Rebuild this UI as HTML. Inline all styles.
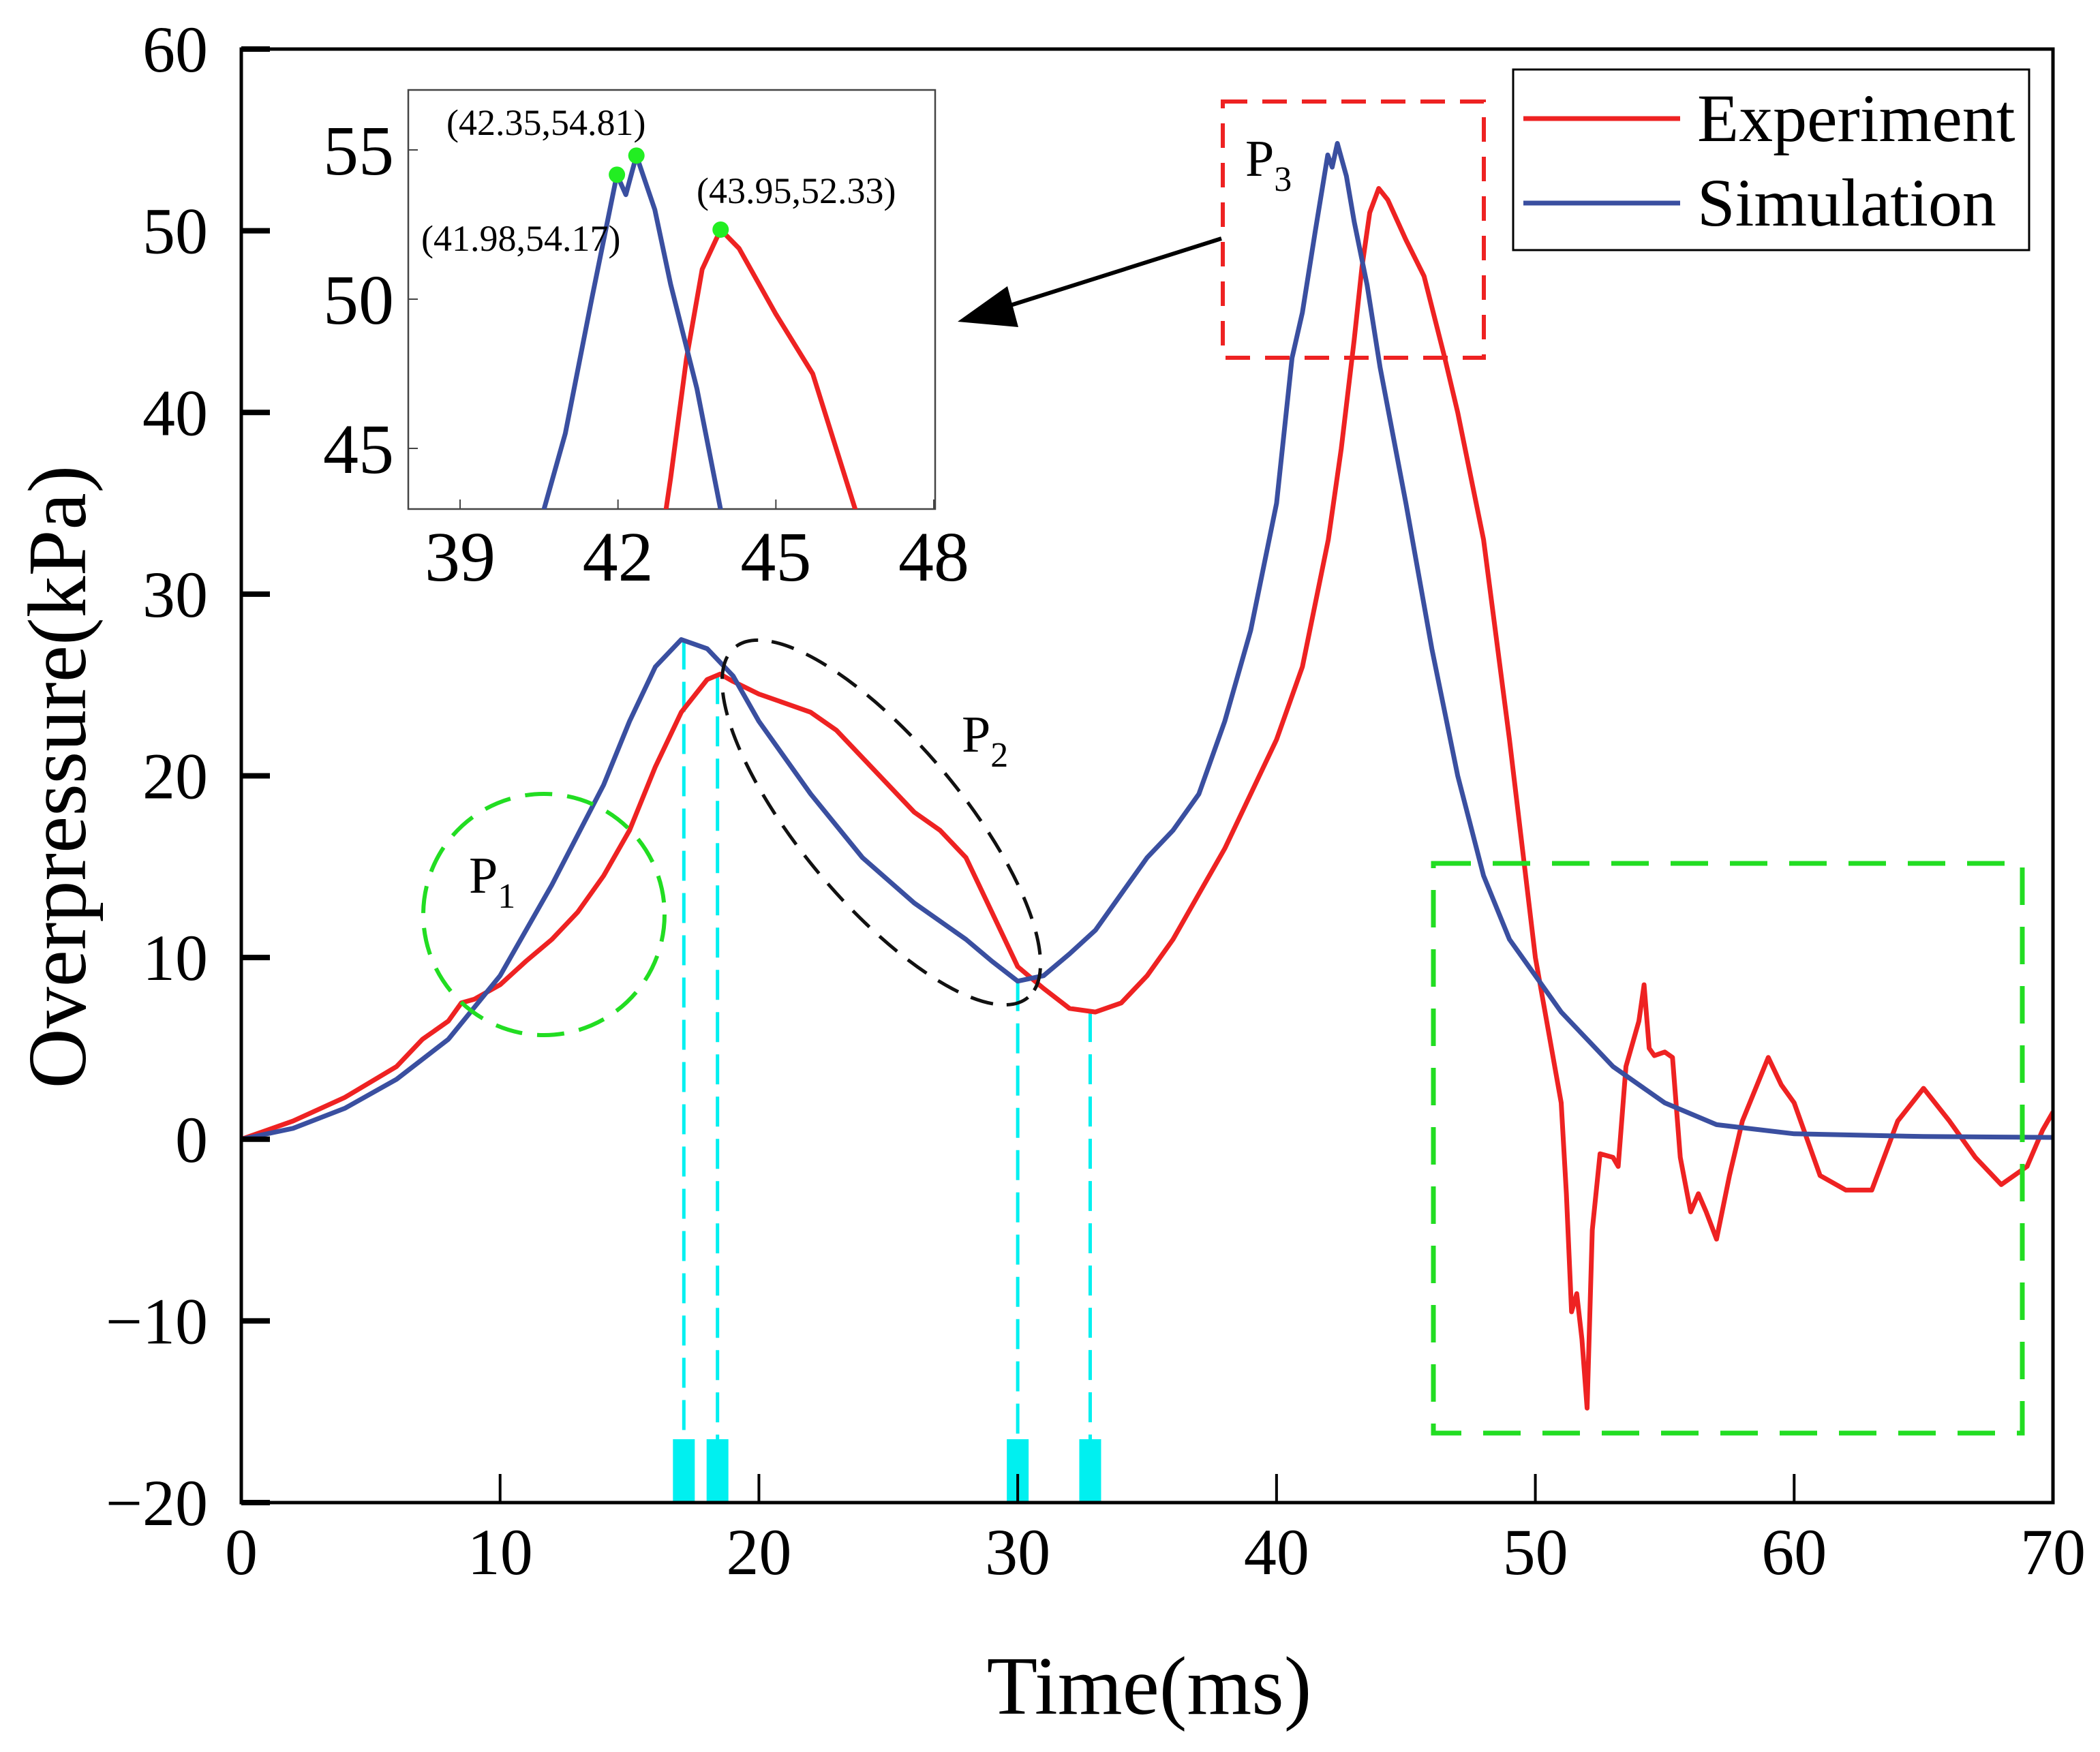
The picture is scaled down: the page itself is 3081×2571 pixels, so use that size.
<!DOCTYPE html>
<html><head><meta charset="utf-8"><style>
html,body{margin:0;padding:0;background:#fff;width:3081px;height:2571px;overflow:hidden}
svg{display:block}
text{font-family:"Liberation Serif",serif;fill:#000}
</style></head><body>
<svg id="c" width="3081" height="2571" viewBox="0 0 3081 2571"></svg>
<script>
const xTicks=[0,10,20,30,40,50,60,70];
const yTicks=[-20,-10,0,10,20,30,40,50,60];
const expT=[0,2,4,6,7,8,8.5,9,10,11,12,13,14,15,16,17,18,18.5,19,20,21,22,23,24,25,26,27,28,29,30,31,32,33,34,35,36,37,38,39,40,41,42,42.5,43,43.3,43.6,43.95,44.3,45,45.7,46.5,47,48,49,50,51,51.2,51.4,51.6,51.8,52,52.2,52.5,53,53.2,53.5,54,54.2,54.4,54.6,55,55.3,55.6,56,56.3,56.6,57,57.5,58,59,59.5,60,61,62,63,64,65,66,67,68,69,69.6,70];
const expV=[0,1,2.3,4,5.5,6.5,7.5,7.7,8.5,9.8,11,12.5,14.5,17,20.5,23.5,25.3,25.6,25.2,24.5,24,23.5,22.5,21,19.5,18,17,15.5,12.5,9.5,8.3,7.2,7,7.5,9,11,13.5,16,19,22,26,33,38,44,48,51,52.33,51.7,49.5,47.5,43,40,33,22,10,2,-3,-9.5,-8.5,-11,-14.8,-5,-0.8,-1,-1.5,4,6.5,8.5,5,4.6,4.8,4.5,-1,-4,-3,-4,-5.5,-2,1,4.5,3,2,-2,-2.8,-2.8,1,2.8,1,-1,-2.5,-1.5,0.5,1.5];
const simT=[0,2,4,6,8,10,12,14,15,16,17,18,19,20,22,24,26,28,29,30,31,32,33,34,35,36,37,38,39,40,40.6,41,41.5,41.98,42.15,42.35,42.7,43,43.5,44,45,46,47,48,49,50,51,52,53,55,57,60,65,70];
const simV=[0,0.6,1.7,3.3,5.5,9,14,19.5,23,26,27.5,27,25.5,23,19,15.5,13,11,9.8,8.7,9,10.2,11.5,13.5,15.5,17,19,23,28,35,43,45.5,50,54.17,53.5,54.81,53,50.5,47,42.5,35,27,20,14.5,11,9,7,5.5,4,2,0.8,0.3,0.15,0.1];
const guideT=[17.1,18.4,30,32.8];
const guideV=[27.5,25.6,8.7,7];
const peakT=[41.98,42.35,43.95];
const peakV=[54.17,54.81,52.33];
const insetXTicks=[39,42,45,48];
const insetYTicks=[45,50,55];

const NS="http://www.w3.org/2000/svg";
const svg=document.getElementById('c');
const L=354,R=3012,T=72,B=2205;
const X=t=>L+(t-0)/70*(R-L);
const Y=v=>B-(v+20)/80*(B-T);
const IL=599,IR=1372,IT=132,IB=747;
const IX=t=>675+(t-39)*(1370-675)/9;
const IY=v=>220+(55-v)*(658-220)/10;
function el(tag,a,p){const e=document.createElementNS(NS,tag);for(const k in a)e.setAttribute(k,a[k]);(p||svg).appendChild(e);return e;}
function txt(s,x,y,size,anchor,p){const e=el('text',{x:x,y:y,'font-size':size,'text-anchor':anchor||'middle'},p);e.textContent=s;return e;}
function path(ts,vs,fx,fy){return ts.map((t,i)=>(i?'L':'M')+fx(t).toFixed(1)+','+fy(vs[i]).toFixed(1)).join('');}

const defs=el('defs',{});
const cp=el('clipPath',{id:'mc'},defs);el('rect',{x:L,y:T,width:R-L,height:B-T},cp);
const cp2=el('clipPath',{id:'ic'},defs);el('rect',{x:IL,y:IT,width:IR-IL,height:IB-IT},cp2);

guideT.forEach((t,i)=>{
 const g=el('line',{x1:X(t),x2:X(t),y1:Y(guideV[i]),y2:B,stroke:'#00f0f0','stroke-width':5,'stroke-dasharray':'44 18'});
 
 
 const b=el('rect',{x:X(t)-16,y:2112,width:32,height:B-2112,fill:'#00f0f0'});
 
 
});

const ser=el('g',{'clip-path':'url(#mc)'});
const pe=el('path',{d:path(expT,expV,X,Y),fill:'none',stroke:'#ee2222','stroke-width':7,'stroke-linejoin':'round'},ser);


const ps=el('path',{d:path(simT,simV,X,Y),fill:'none',stroke:'#3a4fa0','stroke-width':7,'stroke-linejoin':'round'},ser);



const c1=el('circle',{cx:798,cy:1342,r:177,fill:'none',stroke:'#22dd22','stroke-width':6,'stroke-dasharray':'40 22'});

const e2=el('ellipse',{cx:1293,cy:1207,rx:335,ry:118,transform:'rotate(50 1293 1207)',fill:'none',stroke:'#111','stroke-width':5,'stroke-dasharray':'34 20'});

const r3=el('rect',{x:1794,y:149,width:383,height:376,fill:'none',stroke:'#ee2222','stroke-width':6,'stroke-dasharray':'36 22'});

const r4=el('rect',{x:2103,y:1267,width:864,height:836,fill:'none',stroke:'#22dd22','stroke-width':7,'stroke-dasharray':'55 32'});

el('line',{x1:1792,y1:350,x2:1470,y2:452,stroke:'#000','stroke-width':6});
const ah=el('polygon',{points:'1405,472 1478,420 1494,480',fill:'#000'});

function sublabel(x,y,sub,name){const t=el('text',{x:x,y:y,'font-size':76,'text-anchor':'start'});t.textContent='P';const s=el('tspan',{dy:22,'font-size':52},t);s.textContent=sub;}
sublabel(688,1310,'1','p1-label');sublabel(1411,1103,'2','p2-label');sublabel(1827,258,'3','p3-label');

const fr=el('rect',{x:L,y:T,width:R-L,height:B-T,fill:'none',stroke:'#000','stroke-width':5});

xTicks.forEach(t=>{
 el('line',{x1:X(t),x2:X(t),y1:B,y2:B-42,stroke:'#000','stroke-width':4});
 const l=txt(String(t),X(t),2310,96);
 
});
yTicks.forEach(v=>{
 el('line',{x1:L,x2:L+42,y1:Y(v),y2:Y(v),stroke:'#000','stroke-width':8});
 const l=txt(v<0?'\u2212'+(-v):String(v),305,Y(v)+33,96,'end');
 
});
const xt=txt('Time(ms)',1686,2515,122);
const yt=txt('Overpressure(kPa)',0,0,122);yt.setAttribute('transform','translate(125,1140) rotate(-90)');


const lg=el('g',{});
el('rect',{x:2220,y:102,width:757,height:265,fill:'#fff',stroke:'#000','stroke-width':3},lg);
el('line',{x1:2235,x2:2465,y1:174,y2:174,stroke:'#ee2222','stroke-width':7},lg);
el('line',{x1:2235,x2:2465,y1:298,y2:298,stroke:'#3a4fa0','stroke-width':7},lg);
const le1=txt('Experiment',2490,207,100,'start',lg);
const le2=txt('Simulation',2490,331,100,'start',lg);

const ig=el('g',{});
el('rect',{x:IL,y:IT,width:IR-IL,height:IB-IT,fill:'#fff',stroke:'#444','stroke-width':2.5},ig);
const isr=el('g',{'clip-path':'url(#ic)'},ig);
el('path',{d:path(expT,expV,IX,IY),fill:'none',stroke:'#ee2222','stroke-width':7,'stroke-linejoin':'round'},isr);
el('path',{d:path(simT,simV,IX,IY),fill:'none',stroke:'#3a4fa0','stroke-width':7,'stroke-linejoin':'round'},isr);
peakT.forEach((t,i)=>{const d=el('circle',{cx:IX(t),cy:IY(peakV[i]),r:12,fill:'#22ee22'},ig);
 });
insetXTicks.forEach(t=>{el('line',{x1:IX(t),x2:IX(t),y1:IB,y2:IB-14,stroke:'#444','stroke-width':2},ig);txt(String(t),IX(t),852,104,'middle',ig);});
insetYTicks.forEach(v=>{el('line',{x1:IL,x2:IL+14,y1:IY(v),y2:IY(v),stroke:'#444','stroke-width':2},ig);txt(String(v),578,IY(v)+36,104,'end',ig);});
txt('(42.35,54.81)',655,198,54,'start',ig);
txt('(41.98,54.17)',618,368,54,'start',ig);
txt('(43.95,52.33)',1022,298,54,'start',ig);
</script>
</body></html>
